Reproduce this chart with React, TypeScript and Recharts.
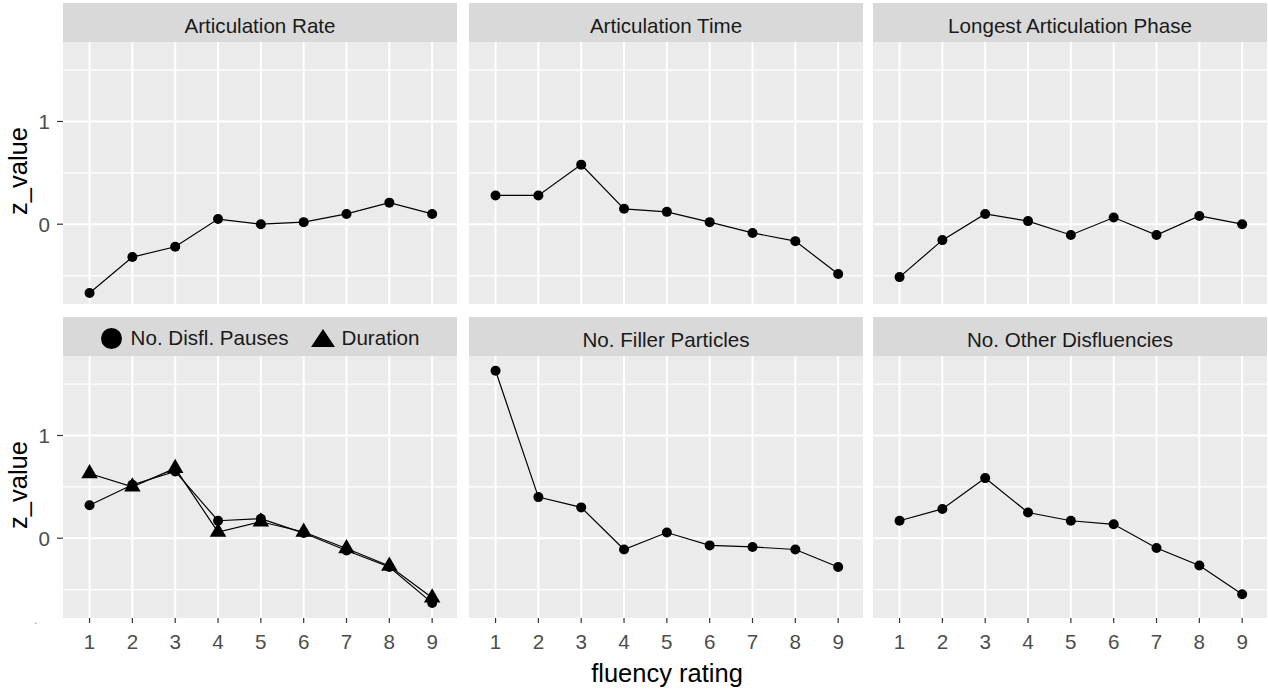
import React from "react";
import { LineChart, Line, XAxis, YAxis, CartesianGrid, Legend } from "recharts";

// fluency rating categories (x axis)
const ratings = [1, 2, 3, 4, 5, 6, 7, 8, 9];

// z values, one array per facet
const articulationRate = [-0.67, -0.32, -0.22, 0.05, 0.0, 0.02, 0.1, 0.21, 0.1];
const articulationTime = [0.28, 0.28, 0.58, 0.15, 0.12, 0.02, -0.085, -0.165, -0.485];
const longestPhase = [-0.515, -0.155, 0.1, 0.03, -0.105, 0.065, -0.105, 0.08, 0.0];
const disflPauses = [0.32, 0.52, 0.65, 0.17, 0.19, 0.05, -0.12, -0.28, -0.63];
const disflDuration = [0.63, 0.5, 0.68, 0.06, 0.16, 0.06, -0.1, -0.27, -0.58];
const fillerParticles = [1.63, 0.4, 0.3, -0.11, 0.055, -0.07, -0.085, -0.11, -0.28];
const otherDisfluencies = [0.17, 0.285, 0.585, 0.25, 0.17, 0.135, -0.095, -0.265, -0.545];

const facetTitles = [
  "Articulation Rate",
  "Articulation Time",
  "Longest Articulation Phase",
  "",
  "No. Filler Particles",
  "No. Other Disfluencies",
];
const pausesName = "No. Disfl. Pauses";
const durationName = "Duration";
const legendOrder = [pausesName, durationName];

const yTicks = [0, 1];
const yMinor = [-0.5, 0.5, 1.5];
const xLabel = "fluency rating";
const yLabel = "z_value";

// layout
const FONT = "'Liberation Sans', Arial, sans-serif";
const SMALL = 20.6;
const BIG = 25.5;
const colX = [63, 469, 873];
const stripTop = [3, 317];
const PANEL_W = 394;
const PANEL_H = 262;
const STRIP_H = 39;
const Y_AXIS_W = 63;
const X_AXIS_H = 35;
const X_DOMAIN: [number, number] = [0.38, 9.58];
const Y_DOMAIN: [number, number] = [-0.777, 1.774];

const single = (values: number[]) => ratings.map((r, i) => ({ rating: r, value: values[i] }));

const TriangleDot = (props: any) => {
  const { cx, cy } = props;
  if (cx == null || cy == null) return <g />;
  const r = 9.5;
  const h = r * 0.866;
  return (
    <polygon
      points={`${cx},${cy - r} ${cx + h},${cy + r / 2} ${cx - h},${cy + r / 2}`}
      fill="#000"
    />
  );
};

const circleDot = { r: 5, fill: "#000", stroke: "#000", strokeWidth: 0 };

const DisflLegend = (props: any) => {
  const items = [...(props.payload ?? [])].sort(
    (a: any, b: any) => legendOrder.indexOf(a.value) - legendOrder.indexOf(b.value)
  );
  return (
    <div
      style={{
        display: "flex",
        justifyContent: "center",
        alignItems: "center",
        height: STRIP_H,
        paddingTop: 3,
        boxSizing: "border-box",
        fontFamily: FONT,
        fontSize: SMALL,
        color: "#1A1A1A",
      }}
    >
      {items.map((it: any, i: number) => (
        <div key={i} style={{ display: "flex", alignItems: "center", marginLeft: i ? 22 : 0 }}>
          {it.type === "triangle" ? (
            <svg width={24} height={20} style={{ marginRight: 7 }}>
              <polygon points="12,1 24,19 0,19" fill="#000" />
            </svg>
          ) : (
            <svg width={21} height={21} style={{ marginRight: 9 }}>
              <circle cx={10.5} cy={10.5} r={10.5} fill="#000" />
            </svg>
          )}
          <span>{it.value}</span>
        </div>
      ))}
    </div>
  );
};

function Panel({ row, col, children, data, legend }: any) {
  const showY = col === 0;
  const showX = row === 1;
  const left = showY ? colX[col] - Y_AXIS_W : colX[col];
  const width = PANEL_W + (showY ? Y_AXIS_W : 0);
  const height = STRIP_H + PANEL_H + (showX ? X_AXIS_H : 0);
  return (
    <div style={{ position: "absolute", left, top: stripTop[row], width, height }}>
      <LineChart width={width} height={height} data={data} margin={{ top: STRIP_H, right: 0, bottom: 0, left: 0 }}>
        <CartesianGrid
          fill="#EBEBEB"
          fillOpacity={1}
          stroke="#FFFFFF"
          strokeWidth={1.2}
          vertical={false}
          horizontalValues={yMinor}
        />
        <CartesianGrid
          stroke="#FFFFFF"
          strokeWidth={2}
          horizontalValues={yTicks}
          verticalValues={ratings}
        />
        <XAxis
          dataKey="rating"
          type="number"
          domain={X_DOMAIN}
          allowDataOverflow
          ticks={ratings}
          hide={!showX}
          height={X_AXIS_H}
          axisLine={false}
          tickSize={5}
          tickMargin={11}
          tickLine={{ stroke: "#333333", strokeWidth: 1.2 }}
          tick={{ fill: "#4D4D4D", fontSize: SMALL, fontFamily: FONT }}
          interval={0}
        />
        <YAxis
          type="number"
          domain={Y_DOMAIN}
          allowDataOverflow
          ticks={yTicks}
          hide={!showY}
          width={Y_AXIS_W}
          axisLine={false}
          tickSize={6}
          tickMargin={7}
          tickLine={{ stroke: "#333333", strokeWidth: 1.2 }}
          tick={{ fill: "#4D4D4D", fontSize: SMALL, fontFamily: FONT }}
          interval={0}
        />
        {legend}
        {children}
      </LineChart>
    </div>
  );
}

export default function App() {
  const disflData = ratings.map((r, i) => ({
    rating: r,
    pauses: disflPauses[i],
    duration: disflDuration[i],
  }));
  const singles = [articulationRate, articulationTime, longestPhase, null, fillerParticles, otherDisfluencies];

  return (
    <div
      style={{
        position: "absolute",
        left: 0,
        top: 0,
        width: 1268,
        height: 690,
        background: "#FFFFFF",
        fontFamily: FONT,
        overflow: "hidden",
      }}
    >
      <svg width={1268} height={690} style={{ position: "absolute", left: 0, top: 0 }}>
        {facetTitles.map((t, i) => {
          const row = Math.floor(i / 3);
          const col = i % 3;
          return (
            <g key={i}>
              <rect x={colX[col]} y={stripTop[row]} width={PANEL_W} height={STRIP_H} fill="#D9D9D9" />
              {t && (
                <text
                  x={colX[col] + PANEL_W / 2}
                  y={stripTop[row] + 30}
                  textAnchor="middle"
                  fontSize={SMALL}
                  fill="#1A1A1A"
                  fontFamily={FONT}
                >
                  {t}
                </text>
              )}
            </g>
          );
        })}
        {stripTop.map((st, r) => (
          <text
            key={r}
            transform={`translate(26.5, ${st + STRIP_H + PANEL_H / 2 - 2}) rotate(-90)`}
            textAnchor="middle"
            fontSize={BIG}
            fill="#000"
            fontFamily={FONT}
          >
            {yLabel}
          </text>
        ))}
        <text x={667} y={681.5} textAnchor="middle" fontSize={BIG} fill="#000" fontFamily={FONT}>
          {xLabel}
        </text>
        <text x={34} y={624} fontSize={12} fill="#999999" fontFamily={FONT}>
          .
        </text>
      </svg>

      {singles.map((vals, i) => {
        const row = Math.floor(i / 3);
        const col = i % 3;
        if (!vals) {
          return (
            <Panel
              key={i}
              row={row}
              col={col}
              data={disflData}
              legend={
                <Legend
                  layout="horizontal"
                  verticalAlign="middle"
                  align="center"
                  wrapperStyle={{ top: 0, left: Y_AXIS_W, width: PANEL_W, height: STRIP_H }}
                  content={DisflLegend}
                />
              }
            >
              <Line
                type="linear"
                dataKey="pauses"
                name={pausesName}
                legendType="circle"
                stroke="#000"
                strokeWidth={1.2}
                dot={circleDot}
                activeDot={false}
                isAnimationActive={false}
              />
              <Line
                type="linear"
                dataKey="duration"
                name={durationName}
                legendType="triangle"
                stroke="#000"
                strokeWidth={1.2}
                dot={TriangleDot}
                activeDot={false}
                isAnimationActive={false}
              />
            </Panel>
          );
        }
        return (
          <Panel key={i} row={row} col={col} data={single(vals)}>
            <Line
              type="linear"
              dataKey="value"
              stroke="#000"
              strokeWidth={1.2}
              dot={circleDot}
              activeDot={false}
              isAnimationActive={false}
            />
          </Panel>
        );
      })}
    </div>
  );
}
